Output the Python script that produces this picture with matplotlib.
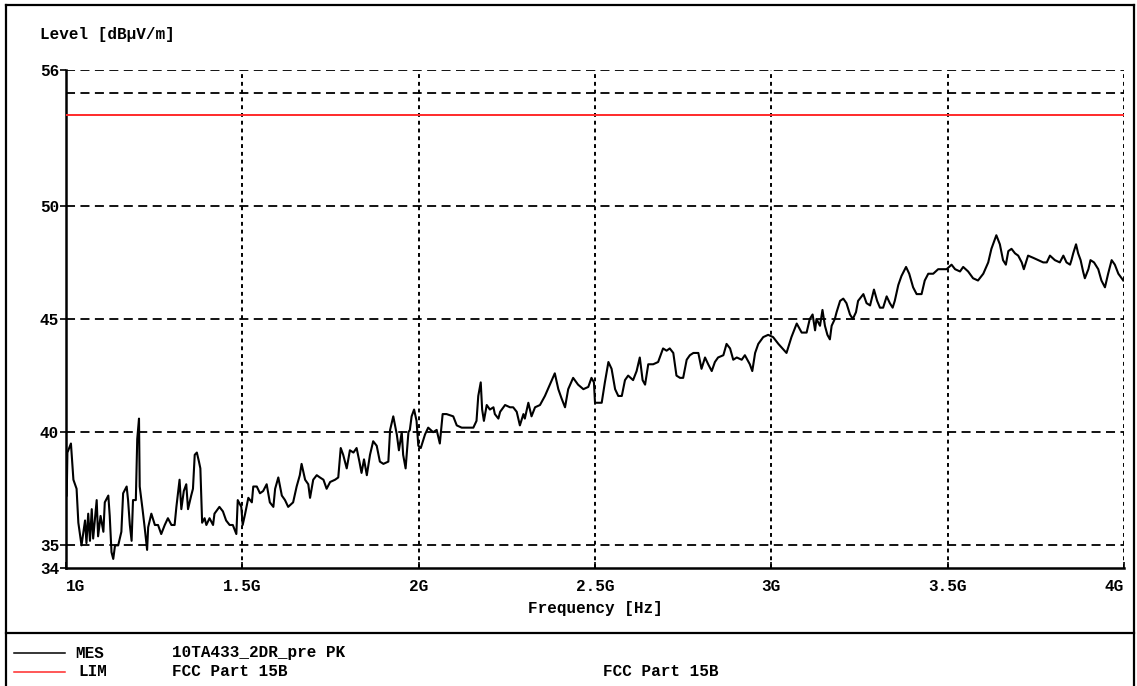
import matplotlib
matplotlib.use("Agg")
import matplotlib.pyplot as plt
from matplotlib.lines import Line2D

freq_ghz = [
    1.002, 1.004, 1.014, 1.021, 1.030, 1.035, 1.044, 1.054, 1.058, 1.063,
    1.068, 1.073, 1.077, 1.087, 1.091, 1.098, 1.106, 1.110, 1.120, 1.124,
    1.129, 1.134, 1.139, 1.148, 1.157, 1.162, 1.172, 1.176, 1.181, 1.186,
    1.190, 1.198, 1.202, 1.207, 1.209, 1.217, 1.223, 1.230, 1.233, 1.242,
    1.252, 1.261, 1.270, 1.280, 1.289, 1.299, 1.308, 1.313, 1.322, 1.327,
    1.334, 1.341, 1.346, 1.355, 1.360, 1.365, 1.371, 1.377, 1.381, 1.386,
    1.393, 1.398, 1.407, 1.417, 1.421, 1.435, 1.445, 1.454, 1.464, 1.473,
    1.483, 1.487, 1.497, 1.501, 1.508, 1.517, 1.527, 1.531, 1.541, 1.550,
    1.559, 1.569, 1.578, 1.588, 1.593, 1.602, 1.612, 1.621, 1.630, 1.644,
    1.654, 1.663, 1.668, 1.678, 1.687, 1.692, 1.701, 1.711, 1.720, 1.730,
    1.739, 1.749, 1.763, 1.772, 1.779, 1.786, 1.796, 1.805, 1.815, 1.824,
    1.832, 1.838, 1.845, 1.853, 1.862, 1.871, 1.881, 1.890, 1.900, 1.914,
    1.919, 1.928, 1.938, 1.944, 1.952, 1.956, 1.963, 1.971, 1.975, 1.980,
    1.987, 1.994, 1.999, 2.006, 2.012, 2.018, 2.027, 2.041, 2.051, 2.060,
    2.068, 2.079, 2.098, 2.108, 2.122, 2.155, 2.164, 2.169, 2.176, 2.180,
    2.185, 2.193, 2.202, 2.212, 2.216, 2.226, 2.231, 2.245, 2.259, 2.268,
    2.278, 2.287, 2.297, 2.301, 2.311, 2.320, 2.330, 2.344, 2.358, 2.372,
    2.386, 2.396, 2.405, 2.415, 2.424, 2.438, 2.452, 2.467, 2.481, 2.490,
    2.497, 2.500, 2.509, 2.519, 2.528, 2.538, 2.547, 2.557, 2.566, 2.576,
    2.585, 2.594, 2.608, 2.618, 2.627, 2.635, 2.642, 2.651, 2.665, 2.679,
    2.693, 2.703, 2.712, 2.722, 2.731, 2.741, 2.750, 2.760, 2.769, 2.779,
    2.793, 2.802, 2.812, 2.821, 2.831, 2.840, 2.849, 2.864, 2.873, 2.883,
    2.892, 2.902, 2.916, 2.925, 2.932, 2.939, 2.946, 2.954, 2.963, 2.977,
    2.991, 3.005, 3.020, 3.043, 3.057, 3.072, 3.086, 3.100, 3.109, 3.117,
    3.124, 3.128, 3.138, 3.145, 3.152, 3.159, 3.166, 3.171, 3.180, 3.185,
    3.195, 3.204, 3.213, 3.223, 3.231, 3.240, 3.246, 3.261, 3.270, 3.280,
    3.291, 3.300, 3.308, 3.317, 3.327, 3.336, 3.344, 3.350, 3.360, 3.369,
    3.382, 3.391, 3.402, 3.412, 3.426, 3.435, 3.445, 3.459, 3.473, 3.483,
    3.497, 3.511, 3.521, 3.535, 3.544, 3.558, 3.572, 3.586, 3.601, 3.615,
    3.624, 3.638, 3.648, 3.657, 3.665, 3.672, 3.681, 3.691, 3.700, 3.710,
    3.716, 3.724, 3.728, 3.743, 3.757, 3.771, 3.781, 3.790, 3.804, 3.818,
    3.828, 3.837, 3.847, 3.851, 3.856, 3.864, 3.870, 3.877, 3.884, 3.889,
    3.899, 3.905, 3.915, 3.927, 3.936, 3.946, 3.955, 3.965, 3.974, 3.984,
    3.998,
]
level_dbuv = [
    37.2, 39.1, 39.5, 37.9, 37.5, 36.0, 35.0, 36.1, 35.1, 36.4,
    35.2, 36.6, 35.3, 37.0, 35.4, 36.3, 35.6, 36.9, 37.2, 36.3,
    34.7, 34.4, 35.0, 35.0, 35.6, 37.3, 37.6, 37.0, 35.9, 35.2,
    37.0, 37.0, 39.7, 40.6, 37.6, 36.6, 35.8, 34.8, 35.8, 36.4,
    35.9, 35.9, 35.5, 35.9, 36.2, 35.9, 35.9, 36.7, 37.9, 36.6,
    37.4, 37.7, 36.6, 37.2, 37.5, 39.0, 39.1, 38.7, 38.4, 36.0,
    36.2, 35.9, 36.2, 35.9, 36.4, 36.7, 36.5, 36.1, 35.9, 35.9,
    35.5, 37.0, 36.7, 35.9, 36.4, 37.1, 36.9, 37.6, 37.6, 37.3,
    37.4, 37.7, 36.9, 36.7, 37.5, 38.0, 37.2, 37.0, 36.7, 36.9,
    37.6, 38.1, 38.6, 37.9, 37.7, 37.1, 37.9, 38.1, 38.0, 37.9,
    37.5, 37.8, 37.9, 38.0, 39.3, 39.0, 38.4, 39.2, 39.1, 39.3,
    38.7, 38.2, 38.8, 38.1, 39.0, 39.6, 39.4, 38.7, 38.6, 38.7,
    40.1, 40.7, 39.9, 39.2, 40.0, 39.0, 38.4, 40.0, 40.1, 40.7,
    41.0, 40.5, 39.4, 39.3, 39.6, 39.9, 40.2, 40.0, 40.1, 39.5,
    40.8, 40.8, 40.7, 40.3, 40.2, 40.2, 40.5, 41.6, 42.2, 41.0,
    40.5, 41.2, 41.0, 41.1, 40.8, 40.6, 40.9, 41.2, 41.1, 41.1,
    40.9, 40.3, 40.8, 40.6, 41.3, 40.7, 41.1, 41.2, 41.6, 42.1,
    42.6, 41.9, 41.5, 41.1, 41.9, 42.4, 42.1, 41.9, 42.0, 42.4,
    42.2, 41.3, 41.3, 41.3, 42.2, 43.1, 42.8, 41.9, 41.6, 41.6,
    42.3, 42.5, 42.3, 42.7, 43.3, 42.3, 42.1, 43.0, 43.0, 43.1,
    43.7, 43.6, 43.7, 43.5, 42.5, 42.4, 42.4, 43.2, 43.4, 43.5,
    43.5, 42.8, 43.3, 43.0, 42.7, 43.1, 43.3, 43.4, 43.9, 43.7,
    43.2, 43.3, 43.2, 43.4, 43.2, 43.0, 42.7, 43.5, 43.9, 44.2,
    44.3, 44.2, 43.9, 43.5, 44.2, 44.8, 44.4, 44.4, 45.0, 45.2,
    44.5, 45.0, 44.7, 45.4, 44.7, 44.3, 44.1, 44.7, 45.0, 45.3,
    45.8, 45.9, 45.7, 45.2, 45.0, 45.3, 45.8, 46.1, 45.7, 45.6,
    46.3, 45.8, 45.5, 45.5, 46.0, 45.7, 45.5, 45.8, 46.5, 46.9,
    47.3, 47.0, 46.4, 46.1, 46.1, 46.7, 47.0, 47.0, 47.2, 47.2,
    47.2, 47.4, 47.2, 47.1, 47.3, 47.1, 46.8, 46.7, 47.0, 47.5,
    48.1, 48.7, 48.3, 47.6, 47.4, 48.0, 48.1, 47.9, 47.8, 47.5,
    47.2, 47.6, 47.8, 47.7, 47.6, 47.5, 47.5, 47.8, 47.6, 47.5,
    47.8, 47.5, 47.4, 47.6, 47.9, 48.3, 47.9, 47.6, 47.1, 46.8,
    47.2, 47.6, 47.5, 47.2, 46.7, 46.4, 47.0, 47.6, 47.4, 47.0,
    46.7,
]

# FCC Part 15B limit
limit_freq = [1.0, 4.0]
limit_level = [54.0, 54.0]

xticks = [1.0, 1.5, 2.0, 2.5, 3.0, 3.5, 4.0]
xtick_labels = ["1G", "1.5G", "2G", "2.5G", "3G", "3.5G", "4G"]
yticks = [34, 35, 40, 45, 50, 56]
ygrid = [35, 40, 45, 50, 55, 56]

mono = ["Liberation Mono", "DejaVu Sans Mono"]
fs = 11.5
W, H = 1137, 686

fig = plt.figure(figsize=(W / 100, H / 100), dpi=100)
fig.patch.set_facecolor("white")
ax = fig.add_axes([66 / W, 1 - 568 / H, (1124 - 66) / W, (568 - 70) / H])

for g in ygrid:
    ax.axhline(g, color="black", lw=1.3, ls=(0, (5, 3)), zorder=1)
for g in xticks[1:]:
    ax.axvline(g, color="black", lw=1.4, ls=(0, (2.0, 2.0)), zorder=1)

ax.plot(limit_freq, limit_level, color="#ff2a2a", lw=1.4, zorder=3)
ax.plot(freq_ghz, level_dbuv, color="black", lw=1.5, zorder=4)

ax.set_xlim(1.0, 4.0)
ax.set_ylim(34, 56)
ax.set_xticks(xticks)
ax.set_xticklabels(xtick_labels, family=mono, fontsize=fs, weight="bold")
ax.set_yticks(yticks)
ax.set_yticklabels([str(t) for t in yticks], family=mono, fontsize=fs, weight="bold")
labs = ax.get_xticklabels()
labs[0].set_ha("left")
labs[-1].set_ha("right")

ax.tick_params(axis="x", direction="in", length=4, width=1.2, pad=8)
ax.tick_params(axis="y", direction="out", length=4, width=1.2, pad=1)
for s in ["top", "right"]:
    ax.spines[s].set_visible(False)
for s in ["left", "bottom"]:
    ax.spines[s].set_linewidth(1.8)

def fx(px):
    return px / W

def fy(py):
    return 1 - py / H

txt = dict(family=mono, fontsize=fs, weight="bold", va="center")
fig.text(fx(40), fy(35), "Level [dB\u00b5V/m]", **txt)
fig.text(fx(595), fy(608), "Frequency [Hz]", ha="center", **txt)

# outer frame and legend separator
for xs, ys in [([6, 1134], [5, 5]), ([6, 6], [5, 690]), ([1134, 1134], [5, 690]),
               ([6, 1134], [633, 633])]:
    fig.add_artist(Line2D([fx(v) for v in xs], [fy(v) for v in ys], color="black", lw=1.6))

# legend rows
fig.add_artist(Line2D([fx(14), fx(65)], [fy(653), fy(653)], color="black", lw=1.1))
fig.add_artist(Line2D([fx(14), fx(65)], [fy(672), fy(672)], color="#ff2a2a", lw=1.1))
fig.text(fx(75), fy(653), "MES", **txt)
fig.text(fx(172), fy(653), "10TA433_2DR_pre PK", **txt)
fig.text(fx(78), fy(672), "LIM", **txt)
fig.text(fx(172), fy(672), "FCC Part 15B", **txt)
fig.text(fx(603), fy(672), "FCC Part 15B", **txt)

fig.savefig("out.png", dpi=100, facecolor="white")
